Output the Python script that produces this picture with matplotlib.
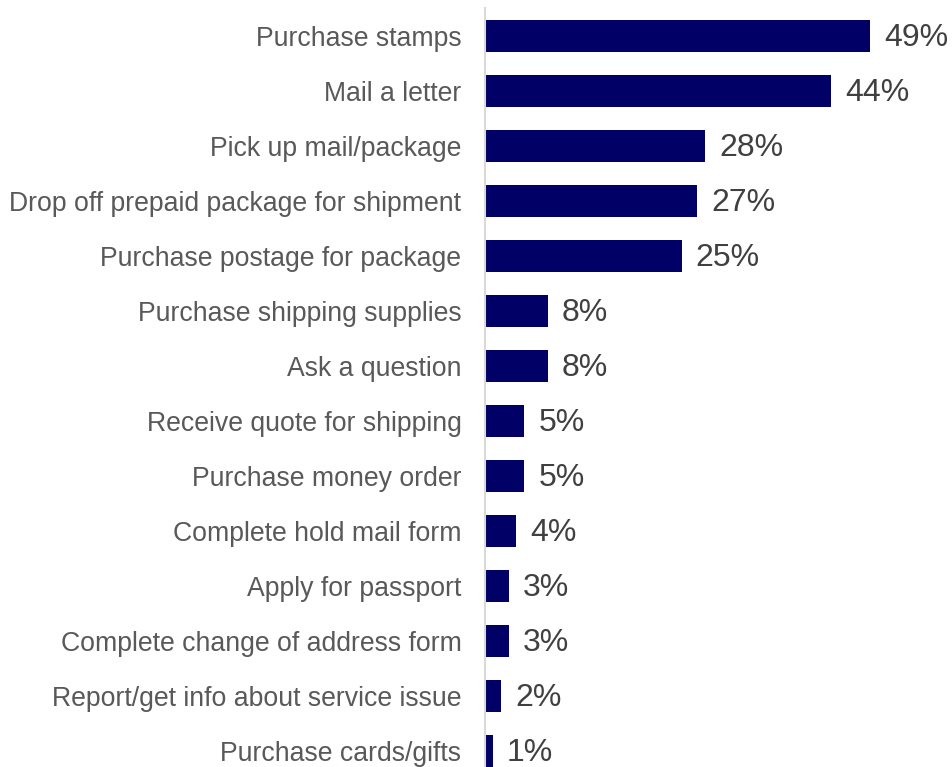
import numpy as np
import matplotlib
matplotlib.use('agg')
import matplotlib.pyplot as plt

plt.rcParams['font.family'] = ['Liberation Sans', 'DejaVu Sans']

# reasons for visiting the post office, share of respondents (%)
tasks = ['Purchase stamps', 'Mail a letter', 'Pick up mail/package',
         'Drop off prepaid package for shipment', 'Purchase postage for package',
         'Purchase shipping supplies', 'Ask a question', 'Receive quote for shipping',
         'Purchase money order', 'Complete hold mail form', 'Apply for passport',
         'Complete change of address form', 'Report/get info about service issue',
         'Purchase cards/gifts']
shares = [49, 44, 28, 27, 25, 8, 8, 5, 5, 4, 3, 3, 2, 1]

fig = plt.figure(figsize=(9.53, 7.67), dpi=100)
ax = fig.add_axes([485 / 953, 0, 1 - 485 / 953, 1 - 8 / 767])

y = np.arange(len(tasks))
ax.barh(y, shares, height=0.57, color='#000066')
for yi, v in zip(y, shares):
    ax.text(v + 1.8, yi + 0.04, f'{v}%', va='center', ha='left', fontsize=23, color='#404040')

ax.set_xlim(0, 59.5)
ax.set_ylim(len(tasks) - 1 + 0.29, -0.51)
ax.set_yticks(y)
ax.set_yticklabels(tasks, fontsize=19.2, color='#595959')
ax.tick_params(axis='y', length=0, pad=17)
ax.set_xticks([])
for s in ['top', 'right', 'bottom']:
    ax.spines[s].set_visible(False)
ax.spines['left'].set_color('#d9d9d9')
ax.spines['left'].set_linewidth(1.5)

fig.savefig('out.png', dpi=100)
